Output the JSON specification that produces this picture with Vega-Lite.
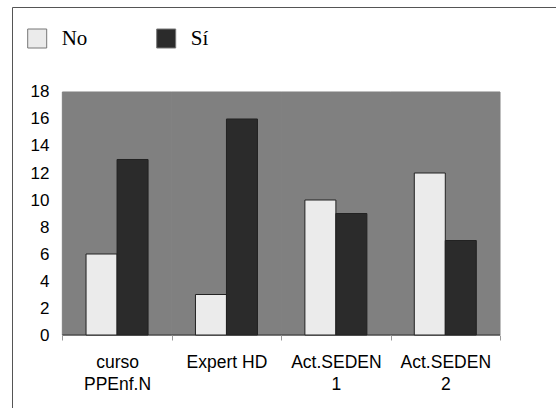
{
  "$schema": "https://vega.github.io/schema/vega-lite/v6.json",
  "width": 545,
  "height": 402,
  "autosize": {"type": "none"},
  "padding": {"left": 12, "top": 7, "right": -1, "bottom": -1},
  "background": "white",
  "config": {"view": {"stroke": "#555", "strokeWidth": 1, "fill": "white"}},
  "data": {"values": [
    {"cat": "curso PPEnf.N", "resp": "No", "n": 6},
    {"cat": "curso PPEnf.N", "resp": "Sí", "n": 13},
    {"cat": "Expert HD", "resp": "No", "n": 3},
    {"cat": "Expert HD", "resp": "Sí", "n": 16},
    {"cat": "Act.SEDEN 1", "resp": "No", "n": 10},
    {"cat": "Act.SEDEN 1", "resp": "Sí", "n": 9},
    {"cat": "Act.SEDEN 2", "resp": "No", "n": 12},
    {"cat": "Act.SEDEN 2", "resp": "Sí", "n": 7}
  ]},
  "layer": [
    {
      "transform": [{"filter": "datum.resp == 'No'"}],
      "mark": {"type": "rect", "fill": "#808080", "stroke": "#808080", "strokeWidth": 1},
      "encoding": {
        "x": {"field": "cat", "type": "nominal", "sort": null,
          "scale": {"type": "band", "paddingInner": 0, "paddingOuter": 0.4905, "align": 0.469},
          "axis": {"title": null, "domain": false, "ticks": true, "tickBand": "extent", "tickSize": 5, "tickColor": "#999",
            "labelAngle": 0, "labelFont": "Liberation Sans", "labelFontSize": 17.5, "labelColor": "#000",
            "labelPadding": 13, "labelLineHeight": 22, "labelLimit": 0, "grid": false, "offset": -74,
            "labelExpr": "datum.label == 'Expert HD' ? datum.label : split(datum.label, ' ')"}},
        "y": {"datum": 18, "type": "quantitative",
          "scale": {"domain": [-5.481, 24.296], "nice": false, "zero": false},
          "axis": {"title": null, "values": [0, 2, 4, 6, 8, 10, 12, 14, 16, 18], "domain": false, "ticks": false, "tickSize": 0,
            "grid": false, "labelFont": "Liberation Sans", "labelFontSize": 17, "labelColor": "#000", "labelPadding": 0, "offset": -37}},
        "y2": {"datum": 0}
      }
    },
    {
      "transform": [{"filter": "datum.resp == 'No'"}],
      "mark": {"type": "rule", "color": "#333", "strokeWidth": 1},
      "encoding": {
        "x": {"field": "cat", "type": "nominal", "sort": null, "bandPosition": 0},
        "x2": {"field": "cat", "bandPosition": 1},
        "y": {"datum": 0, "type": "quantitative"}
      }
    },
    {
      "mark": {"type": "bar", "stroke": "#222", "strokeWidth": 1},
      "encoding": {
        "x": {"field": "cat", "type": "nominal", "sort": null},
        "xOffset": {"field": "resp", "type": "nominal", "sort": ["No", "Sí"], "scale": {"paddingInner": 0, "paddingOuter": 0.7645}},
        "y": {"field": "n", "type": "quantitative", "stack": null},
        "color": {"field": "resp", "type": "nominal",
          "scale": {"domain": ["No", "Sí"], "range": ["#ebebeb", "#2b2b2b"]},
          "legend": {"title": null, "orient": "none", "legendX": 14.7, "legendY": 21, "direction": "horizontal",
            "symbolType": "square", "symbolSize": 361, "symbolStrokeColor": "#777", "symbolStrokeWidth": 1, "symbolOpacity": 1,
            "labelFont": "Liberation Serif", "labelFontSize": 21, "labelColor": "#000", "labelOffset": 14,
            "columnPadding": 67, "padding": 0}}
      }
    }
  ]
}
